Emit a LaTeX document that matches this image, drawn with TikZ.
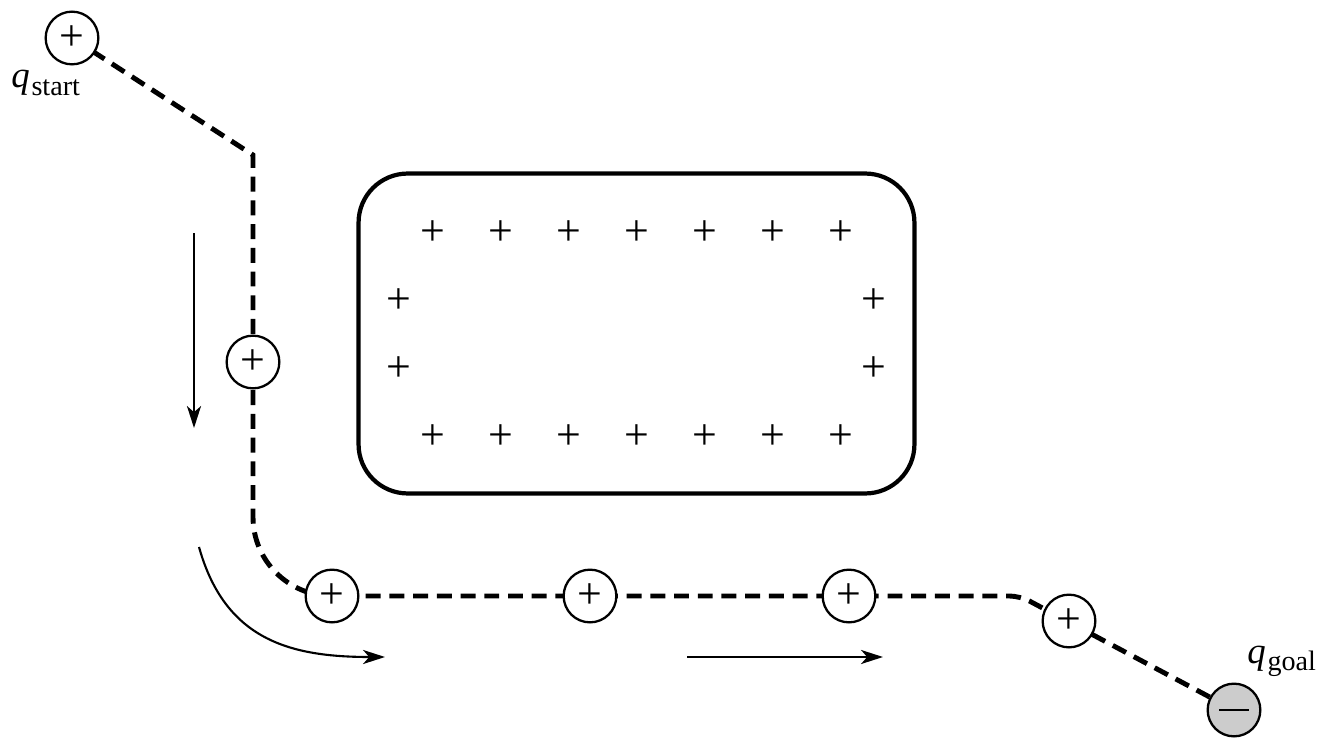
\documentclass[tikz,border=0pt]{standalone}
\usepackage{fontspec}
\setmainfont{Liberation Serif}
\newfontfamily\tms{Liberation Serif}
\usetikzlibrary{arrows.meta,backgrounds}
\definecolor{goalgray}{RGB}{204,204,204}
\begin{document}
\begin{tikzpicture}[x=0.02cm,y=-0.02cm,
  conf/.style={circle,draw,line width=1.3pt,fill=white,minimum size=30pt,inner sep=0pt,font=\tms\fontsize{25}{25}\selectfont},
  goalconf/.style={conf,fill=goalgray},
  cross/.style={inner sep=0pt,font=\tms\fontsize{25}{25}\selectfont},
  route/.style={line width=2.8pt,dash pattern=on 8.5pt off 5pt},
  obst/.style={draw,line width=2.4pt,rounded corners=28pt,minimum width=11.12cm,minimum height=6.4cm,inner sep=0pt},
  motion/.style={line width=1.2pt,-{Stealth[length=12.5pt,width=8pt,inset=3.5pt]}},
  lab/.style={inner sep=0pt,anchor=base west,font=\tms}]
\useasboundingbox (0,0) rectangle (1323,750);

% configurations
\node[conf] (start) at (72,38) {+};
\node[conf] (n2) at (253,362) {+};
\node[conf] (n3) at (332,596) {+};
\node[conf] (n4) at (590,596) {+};
\node[conf] (n5) at (849,596) {+};
\node[conf] (n6) at (1069,621) {+};
\node[goalconf] (goal) at (1234,710) {\rule{17pt}{1pt}};

% labels
\node[lab] (qs) at (11,88) {{\fontsize{21}{21}\selectfont\itshape q}\kern1pt\raisebox{-4pt}{\fontsize{16}{16}\selectfont start}};
\node[lab] (qg) at (1247,663) {{\fontsize{21}{21}\selectfont\itshape q}\kern1pt\raisebox{-4pt}{\fontsize{16}{16}\selectfont goal}};

% route
\coordinate (b1) at (253,155);
\coordinate (b2) at (253,596);
\coordinate (b3) at (1020,596);
\begin{scope}[on background layer]
\draw[route] (start.center) -- (b1) -- (n2.center)
  [rounded corners=45pt] -- (b2) -- (n4.center)
  [rounded corners=6pt] -- (b3) -- (goal.center);
\end{scope}

% obstacle
\node[obst] (obstacle) at (636.5,333.5) {};
\foreach \x [count=\i] in {433,501,569,637,705,773,841}{
  \node[cross] (t\i) at (\x,233) {+};
  \node[cross] (u\i) at (\x,437) {+};
}
\node[cross] (l1) at (399,301) {+};
\node[cross] (l2) at (399,369) {+};
\node[cross] (r1) at (874,301) {+};
\node[cross] (r2) at (874,369) {+};

% motion arrows
\coordinate (a1s) at (194,233);
\coordinate (a1e) at (194,428);
\coordinate (a2s) at (199,547);
\coordinate (a2e) at (385,657);
\coordinate (a3s) at (687,657);
\coordinate (a3e) at (883,657);
\draw[motion] (a1s) -- (a1e);
\draw[motion] (a2s) .. controls (225,640) and (290,657) .. (a2e);
\draw[motion] (a3s) -- (a3e);
\end{tikzpicture}
\end{document}
